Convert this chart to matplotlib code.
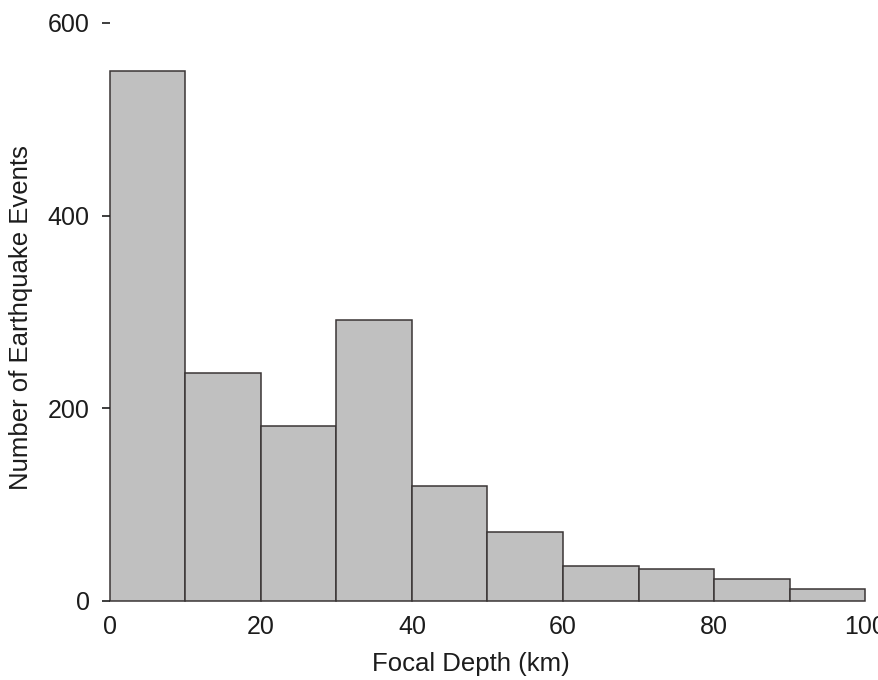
import matplotlib
matplotlib.use('Agg')
import matplotlib.pyplot as plt
import numpy as np

# Focal depth histogram, 10 km bins
bin_edges = np.arange(0, 101, 10)
counts = [550, 237, 182, 292, 119, 72, 36, 33, 23, 12]
y_ticks = [0, 200, 400, 600]
x_ticks = [0, 20, 40, 60, 80, 100]

plt.rcParams['font.family'] = ['Liberation Sans', 'DejaVu Sans']

fig = plt.figure(figsize=(8.79, 6.8), dpi=100)
ax = fig.add_axes([0.1251, 0.1162, 0.859, 0.850])

ax.bar(bin_edges[:-1], counts, width=np.diff(bin_edges), align='edge',
       color='#c0c0c0', edgecolor='#3a3535', linewidth=1.1, clip_on=False)

ax.set_xlim(0, 100)
ax.set_ylim(0, 600)
ax.set_xticks(x_ticks)
ax.set_yticks(y_ticks)
for s in ax.spines.values():
    s.set_visible(False)

ax.tick_params(axis='x', length=0, pad=10, labelsize=18, colors='#1c1c1c')
ax.tick_params(axis='y', length=6, width=1.2, pad=8.5, labelsize=18,
               colors='#1c1c1c')

ax.set_xlabel('Focal Depth (km)', fontsize=18.5, color='#1c1c1c')
ax.set_ylabel('Number of Earthquake Events', fontsize=18.5, color='#1c1c1c')
# label positions (axes fraction)
ax.xaxis.set_label_coords(0.4775, -0.088)
ax.yaxis.set_label_coords(-0.102, 0.49)

plt.savefig('out.png', dpi=100)
